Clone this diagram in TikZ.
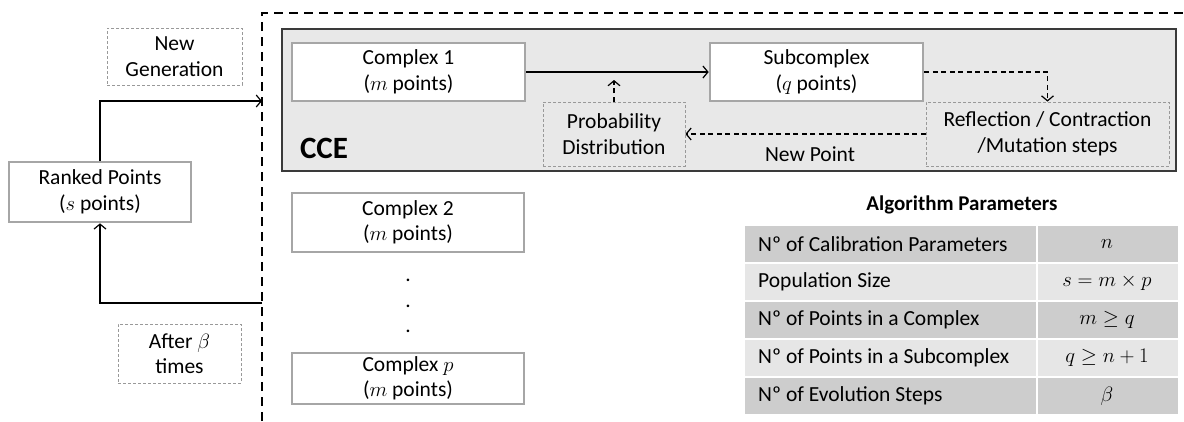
\documentclass[tikz,border=0pt]{standalone}
\usepackage{fontspec}
\setmainfont{Carlito}
\usetikzlibrary{arrows.meta}
\definecolor{boxgray}{HTML}{A6A6A6}
\definecolor{ccefill}{HTML}{E8E8E8}
\definecolor{ccedraw}{HTML}{3A3A3A}
\definecolor{rowdark}{HTML}{CDCDCD}
\definecolor{rowlight}{HTML}{E6E6E6}
\tikzset{
  every node/.style={font=\fontsize{21.5}{25.5}\selectfont, inner sep=0pt, align=center},
  solidbox/.style={draw=boxgray, line width=2.6pt, fill=white},
  dashbox/.style={draw=gray!80, line width=0.8pt, dash pattern=on 3pt off 2pt},
  conn/.style={line width=1.2pt, -{Straight Barb[length=5pt,width=12pt,line width=1.2pt]}},
  dconn/.style={conn, dash pattern=on 5pt off 3.5pt},
  cellL/.style={anchor=west},
}
\begin{document}
\begin{tikzpicture}[x=1pt,y=-1pt]
\useasboundingbox (0,0) rectangle (1184,421);
% outer dashed boundary
\draw[line width=2.4pt, dash pattern=on 9pt off 6pt] (262,421) -- (262,13) -- (1184,13);
% CCE box
\node[draw=ccedraw, fill=ccefill, line width=1.5pt, minimum width=894pt, minimum height=142pt] (cce) at (729,100) {};
\node[font=\fontsize{31}{34}\selectfont\bfseries] (ccelabel) at (324,148) {CCE};
% boxes
\node[solidbox, minimum width=233pt, minimum height=58pt] (c1) at (408.5,72) {Complex 1\\($m$ points)};
\node[solidbox, minimum width=213pt, minimum height=58pt] (sub) at (816.5,72) {Subcomplex\\($q$ points)};
\node[dashbox, minimum width=142pt, minimum height=64pt] (prob) at (614,134) {Probability\\Distribution};
\node[dashbox, minimum width=243pt, minimum height=64pt] (refl) at (1047.5,134) {Reflection / Contraction\\/Mutation steps};
\node (newpt) at (810,154) {New Point};
\coordinate (probtip) at (614,80);
\draw[conn] (c1.east) -- (sub.west);
\draw[dconn] (prob.north) -- (probtip);
\draw[dconn] (sub.east) -| (refl.north);
\draw[dconn] (refl.west) -- (prob.east);
% left part
\node[solidbox, minimum width=182pt, minimum height=60pt] (rank) at (100,192) {Ranked Points\\($s$ points)};
\node[dashbox, minimum width=135pt, minimum height=57pt] (newgen) at (174.5,56.5) {New\\Generation};
\node[dashbox, minimum width=123pt, minimum height=59pt] (after) at (179.5,353.5) {After $\beta$\\times};
\coordinate (gen) at (262,101);
\coordinate (ret) at (262,303);
\draw[conn] (rank.north) |- (gen);
\draw[conn] (ret) -| (rank.south);
% other complexes
\node[solidbox, minimum width=232pt, minimum height=59pt] (c2) at (408,222.5) {Complex 2\\($m$ points)};
\node[solidbox, minimum width=232pt, minimum height=51pt] (cp) at (408,378.5) {Complex $p$\\($m$ points)};
\node (d1) at (408,280) {.};
\node (d2) at (408,306) {.};
\node (d3) at (408,331) {.};
% table
\node[font=\fontsize{21}{24}\selectfont\bfseries] (ttl) at (962,205) {Algorithm Parameters};
\foreach \i/\col/\txt/\val in {0/rowdark/{Nº of Calibration Parameters}/{$n$},
  1/rowlight/{Population Size}/{$s=m\times p$},
  2/rowdark/{Nº of Points in a Complex}/{$m\geq q$},
  3/rowlight/{Nº of Points in a Subcomplex}/{$q\geq n+1$},
  4/rowdark/{Nº of Evolution Steps}/{$\beta$}}{
  \fill[\col] (745,{226+38*\i}) rectangle (1036,{262+38*\i});
  \fill[\col] (1038,{226+38*\i}) rectangle (1178,{262+38*\i});
  \node[cellL] (k\i) at (758,{244+38*\i}) {\txt};
  \node (v\i) at (1107,{244+38*\i}) {\val};
}
\end{tikzpicture}
\end{document}
